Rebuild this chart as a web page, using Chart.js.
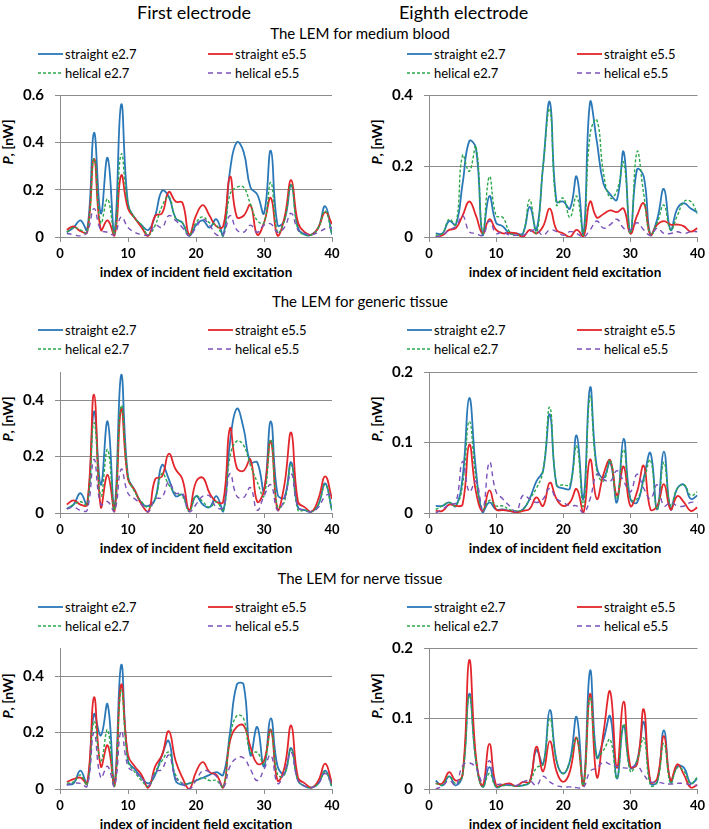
<!DOCTYPE html>
<html><head><meta charset="utf-8">
<script src="https://cdn.jsdelivr.net/npm/chart.js@4/dist/chart.umd.min.js"></script>
<style>
html,body{margin:0;padding:0;background:#fff;}
#wrap{position:relative;width:709px;height:829px;overflow:hidden;font-family:Lato,'Open Sans',sans-serif;color:#000;}
.txt{position:absolute;white-space:nowrap;}
canvas{position:absolute;}
.leg{position:absolute;font-size:13px;line-height:16px;height:16px;white-space:nowrap;display:flex;align-items:center;}
.leg svg{margin-right:2px;display:block;}
.ytitle{position:absolute;font-weight:bold;font-size:14px;line-height:16px;white-space:nowrap;transform:translate(-50%,-50%) rotate(-90deg);}
.xtitle{position:absolute;font-weight:bold;font-size:13.5px;line-height:16px;white-space:nowrap;transform:translate(-50%,-50%);}
</style>
</head><body>
<div id="wrap"></div>
<script>
// ---------- data ----------
const xValues = Array.from({length:40},(_,i)=>i+1);
const xTickValues = [0,10,20,30,40];
const seriesNames = ['straight e2.7','straight e5.5','helical e2.7','helical e5.5'];
const columnTitles = ['First electrode','Eighth electrode'];
const rowTitles = ['The LEM for medium blood','The LEM for generic tissue','The LEM for nerve tissue'];
const yTicksBlood1 = [0,0.2,0.4,0.6];
const yTicksBlood8 = [0,0.2,0.4];
const yTicksGeneric1 = [0,0.2,0.4];
const yTicksGeneric8 = [0,0.1,0.2];
const yTicksNerve1 = [0,0.2,0.4];
const yTicksNerve8 = [0,0.1,0.2];
const yMaxBlood1 = 0.6, yMaxBlood8 = 0.4, yMaxGeneric1 = 0.5, yMaxGeneric8 = 0.2, yMaxNerve1 = 0.5, yMaxNerve8 = 0.2;

// medium blood, first electrode
const blood1_straight27 = [0.02,0.04,0.07,0.03,0.44,0.10,0.335,0.02,0.56,0.14,0.08,0.05,0.03,0.09,0.195,0.17,0.08,0.06,0.005,0.05,0.07,0.04,0.075,0.005,0.28,0.40,0.36,0.21,0.18,0.10,0.365,0.05,0.07,0.22,0.04,0.01,0.01,0.04,0.13,0.01];
const blood1_straight55 = [0.03,0.045,0.025,0.02,0.33,0.03,0.07,0.005,0.26,0.12,0.08,0.04,0.005,0.09,0.10,0.19,0.15,0.145,0.01,0.09,0.135,0.09,0.045,0.045,0.255,0.085,0.09,0.135,0.01,0.06,0.165,0.005,0.08,0.24,0.06,0.02,0.01,0.04,0.105,0.055];
const blood1_helical27 = [0.02,0.04,0.03,0.02,0.33,0.06,0.16,0.01,0.35,0.14,0.08,0.05,0.01,0.05,0.13,0.17,0.08,0.06,0.01,0.06,0.085,0.06,0.05,0.005,0.18,0.21,0.21,0.14,0.07,0.06,0.23,0.02,0.07,0.22,0.03,0.01,0.01,0.04,0.11,0.01];
const blood1_helical55 = [0.015,0.01,0.005,0.02,0.12,0.03,0.02,0.01,0.085,0.04,0.02,0.01,0.01,0.05,0.04,0.09,0.07,0.04,0.005,0.04,0.075,0.05,0.01,0.01,0.09,0.03,0.02,0.05,0.02,0.05,0.055,0.02,0.04,0.10,0.03,0.015,0.01,0.02,0.035,0.04];
// medium blood, eighth electrode
const blood8_straight27 = [0.01,0.01,0.045,0.035,0.15,0.27,0.25,0.005,0.115,0.04,0.03,0.01,0.01,0.01,0.085,0.02,0.20,0.38,0.10,0.10,0.08,0.17,0.005,0.38,0.27,0.15,0.12,0.105,0.24,0.01,0.19,0.17,0.005,0.05,0.135,0.02,0.08,0.095,0.08,0.07];
const blood8_straight55 = [0.0,0.005,0.02,0.025,0.06,0.10,0.06,0.01,0.05,0.02,0.01,0.012,0.01,0.0,0.02,0.01,0.03,0.08,0.02,0.01,0.0,0.02,0.0,0.10,0.055,0.065,0.075,0.07,0.08,0.01,0.06,0.095,0.005,0.035,0.045,0.035,0.035,0.03,0.015,0.025];
const blood8_helical27 = [0.005,0.01,0.05,0.035,0.23,0.185,0.255,0.01,0.17,0.06,0.055,0.015,0.005,0.01,0.105,0.01,0.2,0.36,0.09,0.11,0.055,0.115,0.005,0.29,0.33,0.18,0.11,0.13,0.21,0.01,0.24,0.12,0.005,0.04,0.09,0.02,0.06,0.10,0.10,0.065];
const blood8_helical55 = [0.0,0.005,0.02,0.03,0.06,0.015,0.01,0.005,0.045,0.01,0.015,0.005,0.005,0.005,0.015,0.02,0.005,0.02,0.015,0.005,0.015,0.01,0.0,0.02,0.045,0.025,0.035,0.05,0.025,0.02,0.04,0.02,0.005,0.025,0.01,0.01,0.015,0.01,0.015,0.015];
// generic tissue, first electrode
const generic1_straight27 = [0.015,0.03,0.07,0.03,0.36,0.10,0.325,0.02,0.49,0.13,0.08,0.035,0.025,0.05,0.17,0.12,0.06,0.065,0.01,0.06,0.03,0.02,0.06,0.005,0.25,0.37,0.30,0.18,0.18,0.08,0.325,0.065,0.055,0.18,0.02,0.01,0.005,0.03,0.105,0.01];
const generic1_straight55 = [0.03,0.045,0.03,0.03,0.42,0.02,0.135,0.005,0.37,0.12,0.08,0.03,0.005,0.12,0.13,0.21,0.155,0.12,0.01,0.11,0.125,0.07,0.04,0.04,0.30,0.16,0.15,0.19,0.04,0.08,0.255,0.01,0.10,0.285,0.04,0.02,0.005,0.05,0.13,0.05];
const generic1_helical27 = [0.015,0.03,0.04,0.03,0.32,0.06,0.225,0.01,0.38,0.13,0.075,0.04,0.02,0.05,0.14,0.10,0.07,0.06,0.005,0.06,0.04,0.02,0.04,0.005,0.20,0.255,0.24,0.17,0.11,0.06,0.26,0.02,0.04,0.17,0.01,0.01,0.005,0.03,0.10,0.01];
const generic1_helical55 = [0.015,0.02,0.01,0.01,0.19,0.03,0.04,0.005,0.155,0.07,0.05,0.03,0.005,0.05,0.055,0.11,0.07,0.07,0.005,0.03,0.06,0.06,0.02,0.02,0.14,0.06,0.055,0.09,0.01,0.06,0.10,0.01,0.05,0.14,0.02,0.01,0.005,0.02,0.06,0.07];
// generic tissue, eighth electrode
const generic8_straight27 = [0.01,0.01,0.015,0.01,0.05,0.163,0.06,0.0,0.015,0.005,0.005,0.003,0.002,0.005,0.02,0.045,0.06,0.14,0.04,0.035,0.035,0.11,0.02,0.178,0.065,0.05,0.072,0.015,0.105,0.02,0.015,0.05,0.085,0.005,0.087,0.005,0.035,0.04,0.02,0.025];
const generic8_straight55 = [0.003,0.003,0.012,0.01,0.012,0.097,0.03,0.003,0.032,0.005,0.004,0.003,0.001,0.003,0.006,0.022,0.01,0.043,0.02,0.01,0.015,0.034,0.0,0.076,0.02,0.055,0.075,0.025,0.066,0.01,0.03,0.067,0.005,0.01,0.041,0.005,0.024,0.015,0.003,0.008];
const generic8_helical27 = [0.005,0.01,0.015,0.01,0.04,0.13,0.05,0.005,0.018,0.01,0.01,0.005,0.003,0.005,0.02,0.035,0.06,0.15,0.04,0.04,0.04,0.095,0.01,0.165,0.06,0.045,0.075,0.02,0.09,0.02,0.02,0.045,0.075,0.005,0.072,0.01,0.035,0.04,0.025,0.03];
const generic8_helical55 = [0.0,0.005,0.012,0.015,0.073,0.03,0.045,0.005,0.072,0.03,0.02,0.01,0.002,0.025,0.02,0.015,0.02,0.035,0.02,0.015,0.01,0.01,0.0,0.02,0.055,0.048,0.045,0.06,0.045,0.03,0.055,0.035,0.02,0.04,0.01,0.015,0.01,0.01,0.015,0.015];
// nerve tissue, first electrode
const nerve1_straight27 = [0.015,0.02,0.065,0.02,0.265,0.19,0.30,0.02,0.44,0.10,0.07,0.04,0.02,0.05,0.12,0.17,0.03,0.015,0.02,0.03,0.04,0.05,0.06,0.05,0.20,0.37,0.37,0.12,0.22,0.08,0.25,0.08,0.055,0.145,0.03,0.01,0.005,0.02,0.065,0.01];
const nerve1_straight55 = [0.025,0.035,0.04,0.02,0.325,0.08,0.155,0.01,0.37,0.12,0.08,0.05,0.005,0.08,0.12,0.205,0.10,0.04,0.0,0.06,0.095,0.06,0.05,0.005,0.17,0.22,0.225,0.15,0.09,0.10,0.21,0.03,0.075,0.225,0.04,0.02,0.005,0.03,0.09,0.02];
const nerve1_helical27 = [0.02,0.025,0.05,0.015,0.24,0.10,0.21,0.01,0.35,0.10,0.06,0.03,0.01,0.06,0.10,0.13,0.05,0.02,0.02,0.03,0.04,0.03,0.03,0.005,0.18,0.26,0.25,0.13,0.13,0.09,0.21,0.05,0.05,0.14,0.03,0.01,0.005,0.02,0.06,0.005];
const nerve1_helical55 = [0.015,0.02,0.02,0.01,0.20,0.04,0.08,0.01,0.205,0.08,0.06,0.04,0.01,0.06,0.07,0.12,0.04,0.02,0.0,0.03,0.065,0.06,0.045,0.005,0.08,0.11,0.11,0.07,0.03,0.07,0.12,0.02,0.06,0.13,0.03,0.01,0.005,0.02,0.055,0.02];
// nerve tissue, eighth electrode
const nerve8_straight27 = [0.012,0.005,0.018,0.005,0.02,0.135,0.04,0.003,0.031,0.003,0.005,0.006,0.004,0.005,0.01,0.055,0.035,0.112,0.04,0.022,0.04,0.102,0.005,0.168,0.045,0.07,0.103,0.015,0.09,0.03,0.04,0.095,0.008,0.01,0.083,0.01,0.032,0.03,0.008,0.015];
const nerve8_straight55 = [0.008,0.008,0.024,0.012,0.02,0.183,0.045,0.005,0.064,0.005,0.006,0.008,0.004,0.01,0.01,0.06,0.025,0.068,0.025,0.01,0.025,0.073,0.005,0.135,0.017,0.08,0.138,0.03,0.124,0.032,0.035,0.113,0.01,0.015,0.075,0.012,0.035,0.02,0.002,0.006];
const nerve8_helical27 = [0.008,0.006,0.018,0.008,0.02,0.132,0.04,0.003,0.022,0.003,0.005,0.005,0.004,0.005,0.01,0.03,0.035,0.10,0.04,0.022,0.04,0.072,0.005,0.13,0.045,0.055,0.07,0.015,0.092,0.025,0.04,0.072,0.005,0.01,0.065,0.008,0.03,0.025,0.008,0.017];
const nerve8_helical55 = [0.0,0.004,0.012,0.005,0.033,0.037,0.03,0.01,0.04,0.008,0.007,0.006,0.005,0.01,0.012,0.005,0.018,0.01,0.005,0.003,0.003,0.002,0.002,0.025,0.03,0.038,0.035,0.032,0.03,0.03,0.033,0.02,0.01,0.01,0.008,0.007,0.008,0.008,0.006,0.005];

// ---------- layout / style ----------
const FONT = 'Lato, "Open Sans", sans-serif';
const styles = [
  {color:'#2a78b8', width:1.8, dash:[], order:4},
  {color:'#e3262b', width:1.8, dash:[], order:3},
  {color:'#2aa84a', width:1.4, dash:[3,2], order:2},
  {color:'#7b52b9', width:1.4, dash:[5,4], order:1}
];
const rows = [
  {top:85, bottom:237, subY:33, legY:[54,73], yTitleY:142},
  {top:362, bottom:513, subY:301, legY:[330,349], yTitleY:419},
  {top:638, bottom:789, subY:578, legY:[607,626], yTitleY:696}
];
const cols = [
  {axisX:60, right:332, canvasLeft:0, canvasW:355, legX:[38,208], yTitleX:8, titleX:137},
  {axisX:429, right:701, canvasLeft:369, canvasW:340, legX:[407,577], yTitleX:377, titleX:399}
];
const panels = [
  {r:0,c:0,yTicks:yTicksBlood1,yMax:yMaxBlood1,data:[blood1_straight27,blood1_straight55,blood1_helical27,blood1_helical55]},
  {r:0,c:1,yTicks:yTicksBlood8,yMax:yMaxBlood8,data:[blood8_straight27,blood8_straight55,blood8_helical27,blood8_helical55]},
  {r:1,c:0,yTicks:yTicksGeneric1,yMax:yMaxGeneric1,data:[generic1_straight27,generic1_straight55,generic1_helical27,generic1_helical55]},
  {r:1,c:1,yTicks:yTicksGeneric8,yMax:yMaxGeneric8,data:[generic8_straight27,generic8_straight55,generic8_helical27,generic8_helical55]},
  {r:2,c:0,yTicks:yTicksNerve1,yMax:yMaxNerve1,data:[nerve1_straight27,nerve1_straight55,nerve1_helical27,nerve1_helical55]},
  {r:2,c:1,yTicks:yTicksNerve8,yMax:yMaxNerve8,data:[nerve8_straight27,nerve8_straight55,nerve8_helical27,nerve8_helical55]}
];

const wrap = document.getElementById('wrap');
function addText(cls, html, x, y, extra){
  const d = document.createElement('div');
  d.className = cls; d.innerHTML = html;
  d.style.left = x+'px'; d.style.top = y+'px';
  if (extra) Object.assign(d.style, extra);
  wrap.appendChild(d); return d;
}
// column titles
columnTitles.forEach((t,i)=>addText('txt', t, cols[i].titleX, 2, {fontSize:'18px', lineHeight:'20px'}));
// row titles
rowTitles.forEach((t,i)=>addText('txt', t, 360, rows[i].subY-9, {fontSize:'15px', lineHeight:'18px', transform:'translateX(-50%)'}));

function legendItem(x, y, s, label){
  const d = document.createElement('div');
  d.className = 'leg';
  d.style.left = x+'px'; d.style.top = (y-8)+'px';
  const dash = s.dash.length ? ` stroke-dasharray="${s.dash.join(',')}"` : '';
  d.innerHTML = `<svg width="25" height="6"><line x1="0" y1="3" x2="25" y2="3" stroke="${s.color}" stroke-width="${s.width}"${dash}/></svg><span>${label}</span>`;
  wrap.appendChild(d);
}

panels.forEach((p, idx)=>{
  const row = rows[p.r], col = cols[p.c];
  seriesNames.forEach((n,k)=>{
    legendItem(col.legX[k%2], row.legY[Math.floor(k/2)], styles[k], n);
  });
  addText('ytitle', '<i>P</i>, [nW]', col.yTitleX, row.yTitleY);
  addText('xtitle', 'index of incident field excitation', (col.axisX+col.right)/2, row.bottom+35);
  const cv = document.createElement('canvas');
  const h = (row.bottom-row.top) + 10 + 30;
  cv.width = col.canvasW; cv.height = h;
  cv.style.left = col.canvasLeft+'px'; cv.style.top = (row.top-10)+'px';
  cv.style.width = col.canvasW+'px'; cv.style.height = h+'px';
  wrap.appendChild(cv);
  const yTicks = p.yTicks;
  new Chart(cv, {
    type:'line',
    data:{datasets: p.data.map((arr,k)=>({
      label: seriesNames[k],
      data: arr.map((v,i)=>({x:xValues[i], y:v})),
      borderColor: styles[k].color,
      borderWidth: styles[k].width,
      borderDash: styles[k].dash,
      order: styles[k].order,
      pointRadius:0, fill:false, tension:0.45
    }))},
    options:{
      responsive:false, animation:false, devicePixelRatio:1,
      layout:{padding:{left:0, right:col.canvasLeft+col.canvasW-col.right, top:10, bottom:0}},
      plugins:{legend:{display:false}, tooltip:{enabled:false}},
      scales:{
        x:{type:'linear', min:0, max:40,
          afterBuildTicks:s=>{s.ticks = xTickValues.map(v=>({value:v}));},
          ticks:{font:{family:FONT,size:13,weight:'bold'}, color:'#000', padding:4, maxRotation:0, autoSkip:false},
          grid:{drawOnChartArea:false, drawTicks:true, tickLength:5, color:'#8c8c8c'},
          border:{color:'#8c8c8c'},
          afterFit:s=>{s.height=30;}
        },
        y:{type:'linear', min:0, max:p.yMax,
          afterBuildTicks:s=>{s.ticks = yTicks.map(v=>({value:v}));},
          ticks:{font:{family:FONT,size:15,weight:'bold'}, color:'#000', padding:11, autoSkip:false,
            callback:v=> v===0 ? '0' : (+v).toFixed(1)},
          grid:{color:'#8c8c8c', tickLength:5},
          border:{color:'#8c8c8c'},
          afterFit:s=>{s.width=60;}
        }
      }
    }
  });
});
</script>
</body></html>
